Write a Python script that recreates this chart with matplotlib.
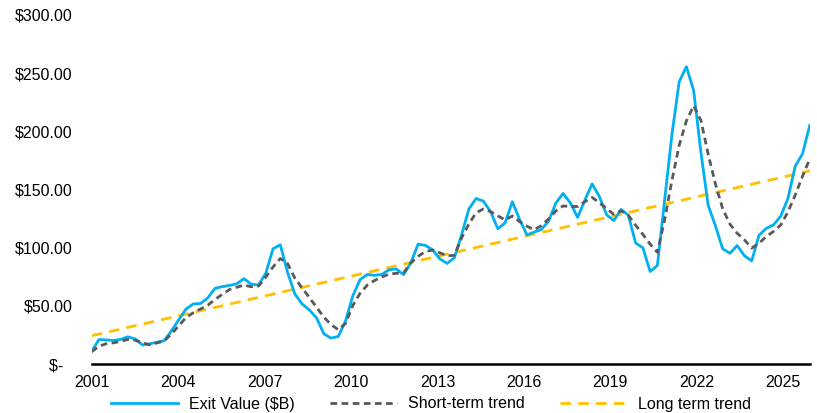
import numpy as np
import matplotlib
matplotlib.use("Agg")
import matplotlib.pyplot as plt

plt.rcParams['font.family'] = ['Liberation Sans', 'DejaVu Sans']

# Quarterly values, 2001 Q1 .. 2025 Q4
exit_value = [11, 21, 20.7, 20.2, 21.2, 23.4, 21.5, 16.3, 17.3, 18.8,
              20, 28.6, 38, 47.2, 51.6, 52, 56.8, 65, 66.5, 67.5,
              69, 73.4, 68.6, 67.9, 78, 99, 102.5, 79, 60.3, 51.7,
              46.5, 39.7, 26, 22.2, 23.7, 37, 58.5, 72.5, 77, 76.2,
              77, 81, 81.7, 76.8, 86.8, 103, 102, 98.2, 90.4, 86.5,
              91.2, 111, 133.2, 142.3, 140, 131, 116.3, 121.3, 139.5, 124.3,
              111, 113.3, 115.6, 122.8, 138.4, 146.6, 138.5, 126, 140.8, 154.8,
              143.9, 128.2, 123.3, 132.9, 127.8, 104, 99.9, 79.5, 84.7, 141.2,
              197, 242.5, 255.6, 235, 182, 136.5, 118.8, 99, 95.2, 101.8,
              93.1, 88.6, 110.5, 116.5, 119.6, 127, 142.3, 170, 180.6, 205]

short_term = [10.6, 15.2, 17.4, 18.2, 19.5, 21.1, 20.4, 18.4, 16.5, 18.1,
              19.8, 25.9, 32.8, 39.9, 44, 47.3, 50.5, 55.5, 59.8, 64,
              66, 67.8, 66.4, 67, 74.7, 83.4, 90.7, 86.4, 74, 65.4,
              57.2, 48.8, 40.3, 33.9, 29.5, 34.8, 50.3, 60.7, 67.8, 71.8,
              74.8, 77.2, 78, 78.3, 87, 92.5, 96.7, 97.9, 95.6, 93,
              93.4, 108.4, 120.3, 130, 133.2, 131, 127.3, 123.9, 127.2, 122.4,
              118.5, 115.4, 119, 124.7, 131.6, 135.9, 135.3, 135.4, 139.5, 143.2,
              138.6, 133.6, 128.6, 131.7, 127.7, 119.3, 111.4, 103, 96, 124.1,
              157.7, 187.9, 209, 222, 209.5, 180.3, 154.8, 133.5, 120.2, 112.4,
              106.8, 99.6, 103.8, 109.5, 113.9, 119.5, 130.7, 145.2, 161.2, 176.2]

long_term_ends = [24.3, 166.0]

year_labels = ['2001', '2004', '2007', '2010', '2013', '2016', '2019', '2022', '2025']
y_ticks = [0, 50, 100, 150, 200, 250, 300]
y_labels = ['$-  ', '$50.00', '$100.00', '$150.00', '$200.00', '$250.00', '$300.00']

n_months = 300  # Jan 2001 .. Dec 2025
x = np.linspace(0, n_months - 1, len(exit_value))

fig = plt.figure(figsize=(8.17, 4.13), dpi=100)
ax = fig.add_axes([91.7 / 817, 1 - 364 / 413, (809.7 - 91.7) / 817, (364 - 15) / 413])

l1, = ax.plot(x, exit_value, color='#00B0F0', lw=2.0, solid_joinstyle='round',
              label='Exit Value ($B)', zorder=3)
l2, = ax.plot(x, short_term, color='#595959', lw=2.0, dashes=(2.4, 1.6),
              label='Short-term trend', zorder=4)
l3, = ax.plot([x[0], x[-1]], long_term_ends, color='#FFC000', lw=2.0,
              dashes=(3.8, 2.6), label='Long term trend', zorder=2)

ax.set_xlim(0, n_months - 1)
ax.set_ylim(0, 300)
ax.set_xticks(np.arange(len(year_labels)) * 36)
ax.set_xticklabels(year_labels)
ax.set_yticks(y_ticks)
ax.set_yticklabels(y_labels)
ax.tick_params(axis='both', length=0, labelsize=11.5, colors='black')
ax.tick_params(axis='y', pad=14)
ax.tick_params(axis='x', pad=8)
for s in ['top', 'right', 'left']:
    ax.spines[s].set_visible(False)
ax.spines['bottom'].set_linewidth(1.8)
ax.spines['bottom'].set_color('black')

fig.legend(handles=[l1, l2, l3], loc='center', bbox_to_anchor=(431 / 817, 1 - 404 / 413),
           ncol=3, frameon=False, fontsize=11.5, handlelength=4.2, columnspacing=2.2,
           handletextpad=0.7)

fig.savefig('out.png', dpi=100)
